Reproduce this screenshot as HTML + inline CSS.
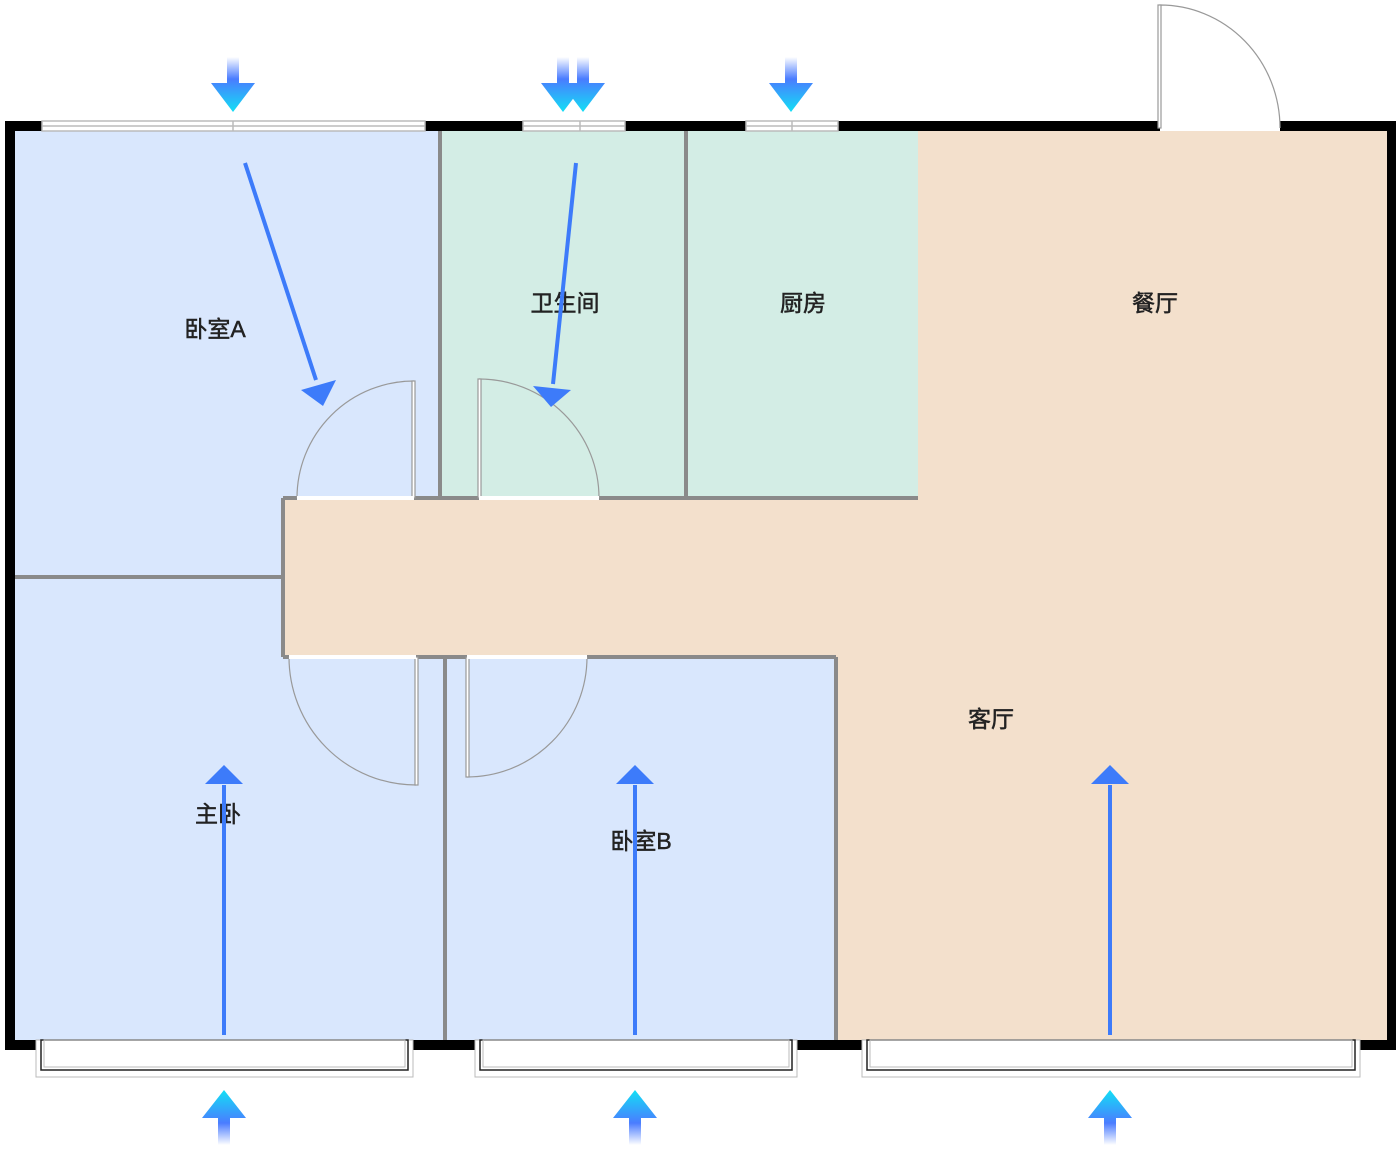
<!DOCTYPE html><html><head><meta charset="utf-8"><style>body{margin:0;background:#fff}svg{display:block}text{font-family:"Liberation Sans","Noto Sans CJK SC",sans-serif;font-size:23px;fill:#222;stroke:#222;stroke-width:0.5;text-anchor:middle;dominant-baseline:middle}</style></head><body>
<svg width="1400" height="1150" viewBox="0 0 1400 1150">
<defs>
<linearGradient id="gd" x1="0" y1="0" x2="0" y2="1"><stop offset="0" stop-color="#fff"/><stop offset=".4" stop-color="#4a7cff"/><stop offset="1" stop-color="#12e0f5"/></linearGradient>
<linearGradient id="gu" x1="0" y1="1" x2="0" y2="0"><stop offset="0" stop-color="#fff"/><stop offset=".4" stop-color="#4a7cff"/><stop offset="1" stop-color="#12e0f5"/></linearGradient>
<g id="ad"><path d="M-6,0h12v26h16l-22,29l-22,-29h16z" fill="url(#gd)"/></g>
<g id="au"><path d="M-6,0h12v-27h16l-22,-28l-22,28h16z" fill="url(#gu)"/></g>
</defs>
<rect x="918" y="131" width="470" height="909" fill="#f3e0cc"/>
<rect x="283" y="498" width="635" height="159" fill="#f3e0cc"/>
<rect x="836" y="498" width="82" height="542" fill="#f3e0cc"/>
<rect x="14" y="131" width="426" height="367" fill="#d9e7fd"/>
<rect x="14" y="498" width="269" height="79" fill="#d9e7fd"/>
<rect x="14" y="577" width="269" height="80" fill="#d9e7fd"/>
<rect x="14" y="657" width="431" height="383" fill="#d9e7fd"/>
<rect x="445" y="657" width="391" height="383" fill="#d9e7fd"/>
<rect x="440" y="131" width="478" height="367" fill="#d3ede5"/>
<g stroke="#8a8a8a" stroke-width="4" fill="none">
<path d="M440,131V498M686,131V498M283,498H918M283,498V657M10,577H283M283,657H836M445,657V1040M836,657V1040"/>
</g>
<g fill="#000">
<rect x="5" y="121" width="37" height="10"/><rect x="425" y="121" width="98" height="10"/><rect x="625" y="121" width="121" height="10"/><rect x="838" y="121" width="322" height="10"/><rect x="1280" y="121" width="116" height="10"/>
<rect x="5" y="121" width="10" height="929"/><rect x="1387" y="121" width="9" height="929"/>
<rect x="5" y="1040" width="31" height="10"/><rect x="413" y="1040" width="62" height="10"/><rect x="797" y="1040" width="65" height="10"/><rect x="1360" y="1040" width="36" height="10"/>
</g>
<g stroke="#bbb" stroke-width="1.5" fill="#fff">
<rect x="42" y="121" width="383" height="10"/><rect x="523" y="121" width="102" height="10"/><rect x="746" y="121" width="92" height="10"/>
<path d="M42,126H425M523,126H625M746,126H838M233,121V131M580,121V131M792,121V131" fill="none"/>
</g>
<g fill="none">
<rect x="36" y="1040" width="377" height="37" stroke="#bbb"/><rect x="41" y="1040" width="367" height="30" stroke="#222" stroke-width="1.5"/><rect x="44" y="1040" width="361" height="27" stroke="#bbb"/>
<rect x="475" y="1040" width="322" height="37" stroke="#bbb"/><rect x="480" y="1040" width="312" height="30" stroke="#222" stroke-width="1.5"/><rect x="483" y="1040" width="306" height="27" stroke="#bbb"/>
<rect x="862" y="1040" width="498" height="37" stroke="#bbb"/><rect x="867" y="1040" width="488" height="30" stroke="#222" stroke-width="1.5"/><rect x="870" y="1040" width="482" height="27" stroke="#bbb"/>
</g>
<g fill="none" stroke="#999" stroke-width="1.2">
<path d="M1160,128V5A120,123 0 0 1 1280,128"/>
<rect x="1158" y="5" width="3" height="123" fill="#fff" stroke="#999"/>
<path d="M414,381A117,117 0 0 0 297,498"/><rect x="412" y="381" width="3" height="117" fill="#fff"/>
<path d="M479,379A120,119 0 0 1 599,498"/><rect x="478" y="379" width="3" height="119" fill="#fff"/>
<path d="M289,657A127,128 0 0 0 416,785"/><rect x="415" y="657" width="3" height="128" fill="#fff"/>
<path d="M467,777A120,120 0 0 0 587,657"/><rect x="466" y="657" width="3" height="120" fill="#fff"/>
</g>
<g stroke="#fff" stroke-width="4"><path d="M297,498H414M479,498H599M289,657H416M467,657H587"/></g>
<text x="215" y="331">卧室A</text><text x="565" y="305">卫生间</text><text x="803" y="305">厨房</text><text x="1155" y="305">餐厅</text><text x="991" y="721">客厅</text><text x="218" y="816">主卧</text><text x="641" y="843">卧室B</text>
<g stroke="#3d7bfa" stroke-width="4" fill="#3d7bfa">
<path d="M245,163L316,380"/><polygon points="323,406 301,390 336,380" stroke="none"/>
<path d="M576,163L553,384"/><polygon points="551,407 533,386 571,390" stroke="none"/>
<path d="M224,1035V785M635,1035V785M1110,1035V785"/>
<polygon points="224,765 205,784 243,784" stroke="none"/><polygon points="635,765 616,784 654,784" stroke="none"/><polygon points="1110,765 1091,784 1129,784" stroke="none"/>
</g>
<use href="#ad" x="233" y="57"/><use href="#ad" x="583" y="57"/><use href="#ad" x="563" y="57"/><use href="#ad" x="791" y="57"/>
<use href="#au" x="224" y="1145"/><use href="#au" x="635" y="1145"/><use href="#au" x="1110" y="1145"/>
</svg></body></html>
